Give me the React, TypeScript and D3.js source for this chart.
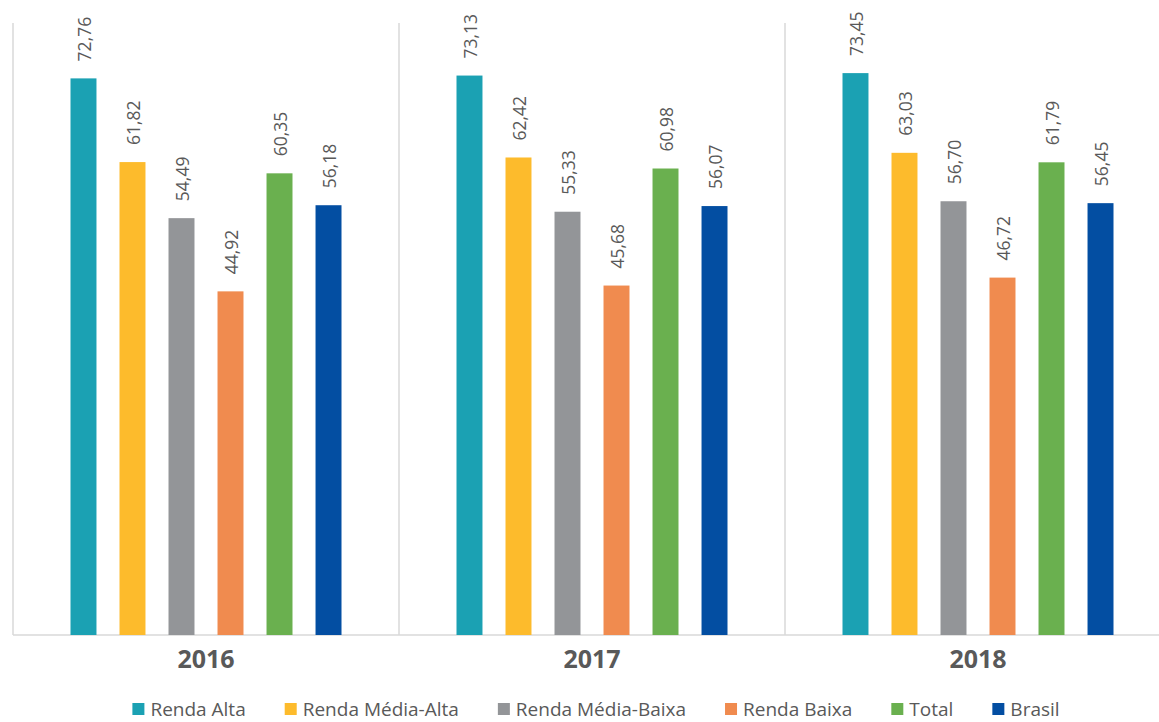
import React, { useEffect, useRef } from "react";
import * as d3 from "d3";

const years = ["2016", "2017", "2018"];
const seriesNames = ["Renda Alta", "Renda Média-Alta", "Renda Média-Baixa", "Renda Baixa", "Total", "Brasil"];
const seriesColors = ["#1ba1b3", "#fdbb2c", "#939598", "#f08b4f", "#6ab04f", "#034ea2"];
const rendaAlta = [72.76, 73.13, 73.45];
const rendaMediaAlta = [61.82, 62.42, 63.03];
const rendaMediaBaixa = [54.49, 55.33, 56.7];
const rendaBaixa = [44.92, 45.68, 46.72];
const total = [60.35, 60.98, 61.79];
const brasil = [56.18, 56.07, 56.45];

const values = [rendaAlta, rendaMediaAlta, rendaMediaBaixa, rendaBaixa, total, brasil];

const W = 1159;
const H = 722;
const FONT = "Open Sans, sans-serif";

const App = () => {
  const ref = useRef<SVGSVGElement | null>(null);

  useEffect(() => {
    const svg = d3.select(ref.current);
    svg.selectAll("*").remove();

    const margin = { top: 23, right: -12, bottom: 87, left: 13 };
    const width = W - margin.left - margin.right;
    const height = H - margin.top - margin.bottom;

    const x0 = d3.scaleBand().domain(years).range([0, width]).padding(0);
    const x1 = d3
      .scaleBand()
      .domain(seriesNames)
      .range([57.5, x0.bandwidth() - 57.5])
      .paddingInner(0.47);
    const y = d3.scaleLinear().domain([0, 80]).range([height, 0]);

    const g = svg.append("g").attr("transform", `translate(${margin.left},${margin.top})`);

    // separadores dos grupos
    g.selectAll(".divider")
      .data([0, 1, 2, 3])
      .enter()
      .append("line")
      .attr("x1", (d) => d * x0.bandwidth())
      .attr("x2", (d) => d * x0.bandwidth())
      .attr("y1", 0)
      .attr("y2", height)
      .attr("stroke", "#d9d9d9")
      .attr("stroke-width", 1.5);

    // linha base
    g.append("line")
      .attr("x1", 0)
      .attr("x2", width)
      .attr("y1", height)
      .attr("y2", height)
      .attr("stroke", "#d9d9d9")
      .attr("stroke-width", 1.5);

    const groups = g
      .selectAll(".year")
      .data(years)
      .enter()
      .append("g")
      .attr("transform", (d) => `translate(${x0(d)},0)`);

    groups
      .selectAll("rect")
      .data((d, i) => seriesNames.map((s, k) => ({ s, k, v: values[k][i] })))
      .enter()
      .append("rect")
      .attr("x", (d) => x1(d.s)!)
      .attr("y", (d) => y(d.v))
      .attr("width", x1.bandwidth())
      .attr("height", (d) => height - y(d.v))
      .attr("fill", (d) => seriesColors[d.k]);

    groups
      .selectAll(".lbl")
      .data((d, i) => seriesNames.map((s, k) => ({ s, k, v: values[k][i] })))
      .enter()
      .append("text")
      .attr("class", "lbl")
      .attr(
        "transform",
        (d) => `translate(${x1(d.s)! + x1.bandwidth() / 2 + 7.5},${y(d.v) - 17}) rotate(-90)`
      )
      .attr("font-family", FONT)
      .attr("font-size", 17.5)
      .attr("fill", "#595959")
      .text((d) => d3.format(".2f")(d.v).replace(".", ","));

    groups
      .append("text")
      .attr("x", x0.bandwidth() / 2)
      .attr("y", 668 - margin.top)
      .attr("text-anchor", "middle")
      .attr("font-family", FONT)
      .attr("font-weight", "bold")
      .attr("font-size", 25)
      .attr("fill", "#595959")
      .text((d) => d);

    // legenda
    const legend = svg.append("g");
    const gap = 39;
    let cx = 0;
    seriesNames.forEach((s, k) => {
      const item = legend.append("g").attr("transform", `translate(${cx},0)`);
      item
        .append("rect")
        .attr("x", 0)
        .attr("y", -13)
        .attr("width", 12)
        .attr("height", 12)
        .attr("fill", seriesColors[k]);
      const t = item
        .append("text")
        .attr("x", 18)
        .attr("y", 0)
        .attr("font-family", FONT)
        .attr("font-size", 19)
        .attr("fill", "#595959")
        .text(s);
      const tw = (t.node() as SVGTextElement).getComputedTextLength();
      cx += 18 + tw + gap;
    });
    const legendWidth = cx - gap;
    legend.attr("transform", `translate(${596 - legendWidth / 2},${716})`);
  }, []);

  return (
    <svg
      ref={ref}
      width={W}
      height={H}
      style={{ position: "absolute", left: 0, top: 0, background: "#fff" }}
    />
  );
};

export default App;
